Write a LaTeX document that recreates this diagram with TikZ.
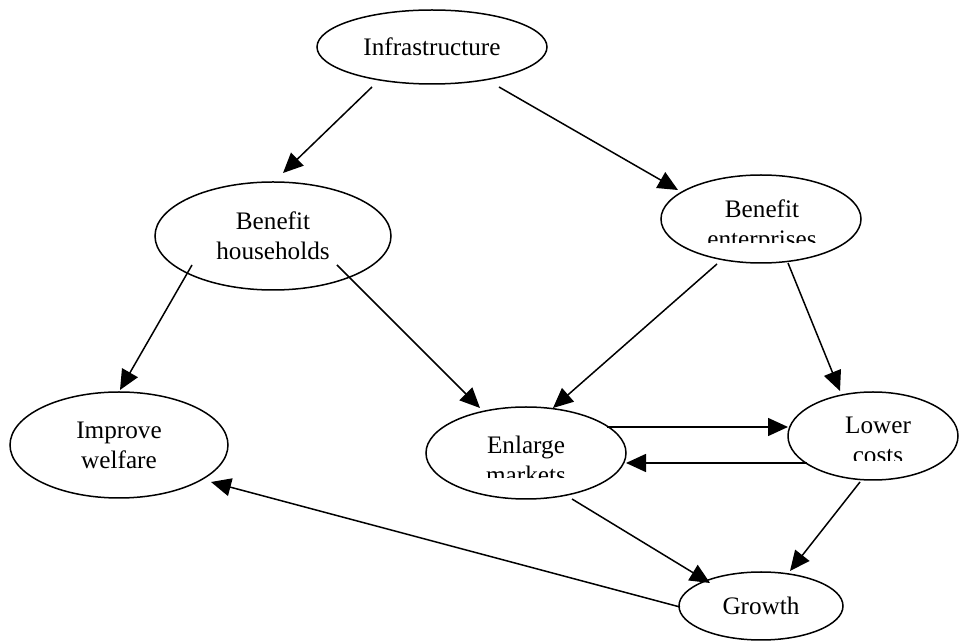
\documentclass[tikz,border=0pt]{standalone}
\usepackage{fontspec}
\setmainfont{Liberation Serif}
\usetikzlibrary{shapes.geometric,arrows.meta}
\begin{document}
\begin{tikzpicture}[x=0.5pt,y=-0.5pt,
  oval/.style={draw,ellipse,line width=0.75pt,inner sep=0pt,align=center,
    font=\fontsize{12.6}{15}\selectfont},
  txt/.style={inner sep=0pt,align=center,font=\fontsize{12.6}{15}\selectfont},
  link/.style={line width=0.75pt,-{Triangle[length=10pt,width=9pt]}}]
\useasboundingbox (0,0) rectangle (960,641);
% nodes
\node[oval,minimum width=115pt,minimum height=37pt] (inf) at (432,47) {Infrastructure};
\node[oval,minimum width=118pt,minimum height=54pt] (bh) at (273,236) {Benefit\\households};
\node[oval,minimum width=100pt,minimum height=44pt] (be) at (761,219) {};
\node[oval,minimum width=109pt,minimum height=53pt] (iw) at (119,445) {Improve\\welfare};
\node[oval,minimum width=100pt,minimum height=46pt] (em) at (526,453) {};
\node[oval,minimum width=85pt,minimum height=44pt] (lc) at (873,436) {};
\node[oval,minimum width=82pt,minimum height=34pt] (gr) at (761,606) {Growth};
% clipped text boxes
\begin{scope}
  \clip (600,150) rectangle (900,243);
  \node[txt] (betext) at ([shift={(1,7)}]be.center) {Benefit\\enterprises};
\end{scope}
\begin{scope}
  \clip (400,400) rectangle (650,478);
  \node[txt] (emtext) at ([shift={(0,7)}]em.center) {Enlarge\\markets};
\end{scope}
\begin{scope}
  \clip (780,380) rectangle (960,461);
  \node[txt] (lctext) at ([shift={(5,4)}]lc.center) {Lower\\costs};
\end{scope}
% connectors
\draw[link] ([shift={(-60,40)}]inf.center) -- ([shift={(10,-63)}]bh.center);
\draw[link] ([shift={(67,40)}]inf.center) -- ([shift={(-83,-29)}]be.center);
\draw[link] ([shift={(-81,29)}]bh.center) -- ([shift={(1,-55)}]iw.center);
\draw[link] ([shift={(64,29)}]bh.center) -- ([shift={(-46,-45)}]em.center);
\draw[link] ([shift={(-44,45)}]be.center) -- ([shift={(27,-45)}]em.center);
\draw[link] ([shift={(27,44)}]be.center) -- ([shift={(-33,-45)}]lc.center);
\draw[link] ([shift={(81,-26)}]em.center) -- ([shift={(-85,-9)}]lc.center);
\draw[link] ([shift={(-66,27)}]lc.center) -- ([shift={(100,10)}]em.center);
\draw[link] ([shift={(-13,46)}]lc.center) -- ([shift={(29,-35)}]gr.center);
\draw[link] ([shift={(46,46)}]em.center) -- ([shift={(-51,-23)}]gr.center);
\draw[link] ([shift={(-81,1)}]gr.center) -- ([shift={(92,37)}]iw.center);
\end{tikzpicture}
\end{document}
